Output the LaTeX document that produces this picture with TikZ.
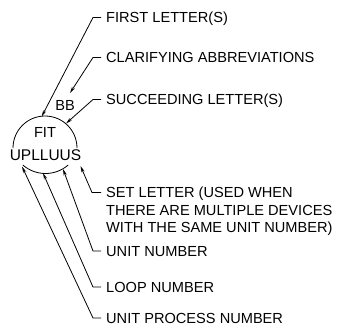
\documentclass[tikz,border=0pt]{standalone}
\usepackage{fontspec}
\setmainfont{Liberation Sans}
\usetikzlibrary{arrows.meta}
\begin{document}
\begin{tikzpicture}[x=1pt,y=-1pt,
  lbl/.style={font=\fontsize{14.6}{17.5}\selectfont, inner sep=0pt, anchor=west, text height=10.45pt, text depth=0pt},
  tagtext/.style={font=\fontsize{14.6}{17.5}\selectfont, inner sep=0pt, text height=10.45pt, text depth=0pt},
  leader/.style={line width=0.8pt, -{Stealth[length=6.5pt,width=3.2pt]}},
  bubble/.style={line width=0.8pt}]
\useasboundingbox (0,0) rectangle (340,325);
% bubble
\draw[bubble] (13,148) arc[start angle=180, end angle=360, radius=32];
\draw[bubble] (45.5,139) ++(131:34.5) arc[start angle=131, end angle=49, radius=34.5];
% tag texts
\node[tagtext] (fit) at (45,132.5) {FIT};
\node[tagtext] (bb) at (65,105.5) {BB};
\node[tagtext, font=\fontsize{15.5}{18}\selectfont] (num) at (45.5,155) {UPLLUUS};
% arrow targets
\coordinate (tFirst) at (41.7,116.5);
\coordinate (tClar) at (70,93);
\coordinate (tSucc) at (66,123.5);
\coordinate (tSet) at (80.5,166);
\coordinate (tUnit) at (63,169);
\coordinate (tLoop) at (43,173);
\coordinate (tUpn) at (22,166.5);
% labels
\node[lbl] (first) at (106,17.5) {FIRST LETTER(S)};
\node[lbl] (clar) at (106,57.5) {CLARIFYING ABBREVIATIONS};
\node[lbl] (succ) at (106,99.5) {SUCCEEDING LETTER(S)};
\node[font=\fontsize{14.6}{17.5}\selectfont, inner sep=0pt, anchor=north west, align=left] (set) at (106,187.2)
  {SET LETTER (USED WHEN\\THERE ARE MULTIPLE DEVICES\\WITH THE SAME UNIT NUMBER)};
\node[lbl] (unit) at (106,251) {UNIT NUMBER};
\node[lbl] (loop) at (106,287) {LOOP NUMBER};
\node[lbl] (upn) at (106,318) {UNIT PROCESS NUMBER};
% leaders
\draw[leader] ([xshift=-5pt]first.west) -- ++(-8,0) -- (tFirst);
\draw[leader] ([xshift=-5pt]clar.west) -- ++(-8,0) -- (tClar);
\draw[leader] ([xshift=-5pt]succ.west) -- ++(-8,0) -- (tSucc);
\draw[leader] ([xshift=-5pt,yshift=-5.3pt]set.north west) -- ++(-9,0) -- (tSet);
\draw[leader] ([xshift=-5pt]unit.west) -- ++(-8,0) -- (tUnit);
\draw[leader] ([xshift=-5pt]loop.west) -- ++(-8,0) -- (tLoop);
\draw[leader] ([xshift=-5pt]upn.west) -- ++(-8,0) -- (tUpn);
\end{tikzpicture}
\end{document}
